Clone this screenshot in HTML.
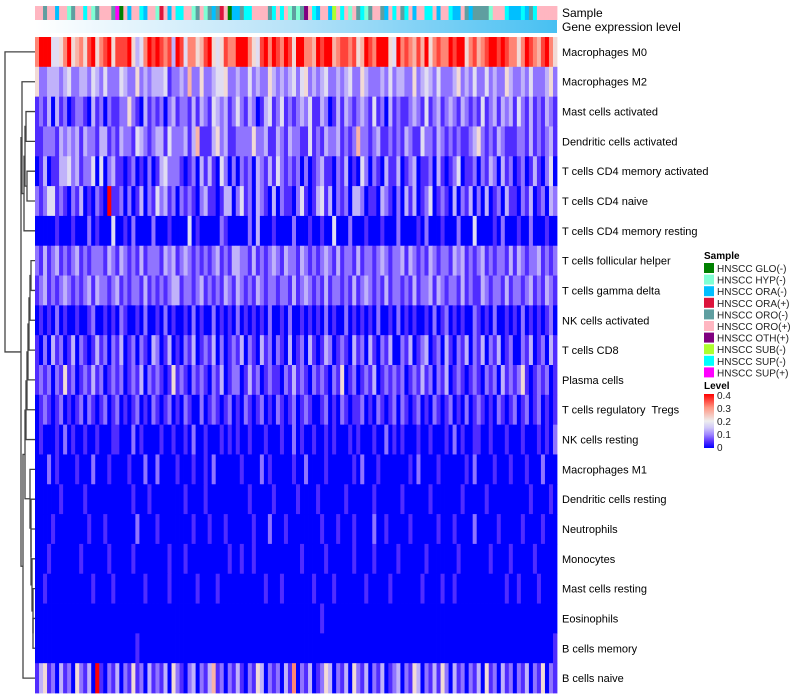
<!DOCTYPE html>
<html><head><meta charset="utf-8"><style>
body{margin:0;background:#fff;font-family:"Liberation Sans",sans-serif}
svg{display:block}
text{white-space:pre}
</style></head><body>
<svg id="c" width="800" height="700"></svg>
<script>
const rowLabels=["Macrophages M0","Macrophages M2","Mast cells activated","Dendritic cells activated","T cells CD4 memory activated","T cells CD4 naive","T cells CD4 memory resting","T cells follicular helper","T cells gamma delta","NK cells activated","T cells CD8","Plasma cells","T cells regulatory  Tregs","NK cells resting","Macrophages M1","Dendritic cells resting","Neutrophils","Monocytes","Mast cells resting","Eosinophils","B cells memory","B cells naive"];
const rowData=[
"7999445795 6758957895 8889534798 9878398477 5689545877 9997548979 8798599776 9899678878 5698799954 9787686957 8779899578 6789989877 5798768975",
"5223332342 2332432422 2432252323 3341223262 2522344522 3224232253 2323424523 2342232342 2532223242 3322523432 4222352324 2242322532 2324222352",
"1213031201 2210312021 1225210312 1202312213 1321432312 4213201341 2412123241 1320131321 2321412031 2112321412 3123213212 1412313231 4213121321",
"1122213232 3132213312 1322143212 3314222313 6111352311 2222522311 3213221141 2132231212 6221231121 2132114221 3212121123 5212132111 2213121231",
"0130113342 3122404023 1101201020 1342221012 0313104202 0212032131 4212120201 2311021301 0420210311 3012301120 3101240112 0213203120 1201310240",
"2124412102 1301021091 1202013021 4231202121 0231101330 2412032103 0211024101 3413021203 3201103210 2031301240 1210302130 2030120311 0213012032",
"0000010001 0002010004 0010200002 0001000040 1000002100 0002030001 0000200010 0100400020 0010001000 2000010200 0100020004 0000102000 1002000100",
"2131231212 3121222132 1321213122 2132312321 2121231213 3221312123 2132213212 1232131221 3122123212 2313212132 1221323121 2312122131 3212231212",
"1231212321 2123132212 3121221312 1212331221 2312121321 3212132122 1221312321 2131221213 1232121312 2121312231 3212213121 1321221312 2123121321",
"0101020100 1001200101 0210010200 1020100102 0100201010 2010101020 0102001010 1020100201 0101020010 2010100102 0120101002 1010200101 0201010120",
"1020312013 0210131202 1301202103 2013010213 0121302012 1302103120 2103012031 0132012103 1203102130 0213012301 2031021302 1302130120 0213012031",
"1212021512 0121312012 1201213021 2101512102 1210213012 2013120121 1021312102 1210215012 0121301212 1201213120 2130121012 1021203121 2510121201",
"0121012010 1202101201 2010120102 1012010210 0201210120 1021012010 2101201210 0120102101 1201021012 0210120102 1012010201 2101021012 0120120101",
"0100010201 0010010001 1000201000 0100100102 0010001010 1001000100 0100201001 0010100010 1000100201 0100010010 0010201001 1001000100 0100010102",
"0002010000 1000200010 0001000200 2000010001 0010200000 0100002010 0000100200 0010000001 0200010000 0001020000 1000000102 0000100010 0010002000",
"0000001000 0010000000 0000100010 0000000100 0010000000 0001000001 0000010000 1000000100 0000100000 0100000010 0000001000 0010000000 0001000010",
"0000100000 0001000100 0000020000 1000000001 0001000100 0000100020 0010000000 0100010001 0000200100 0001000000 1000100002 0000010000 0100001000",
"0001000000 0100000010 0000100000 0001000100 0000000010 0100100000 0000001000 0010000001 0000100000 1000000100 0000010000 0001000010 0000100000",
"0010000000 0000100001 0000000100 0001000000 1000010000 0000000100 0100000001 0000100000 0010000010 0000001000 0100100000 0000000100 1000010000",
"0000000000 0000000000 0000000000 0000000000 0000000000 0000000000 0000000000 0100000000 0000000000 0000000000 0000000000 0000000000 0000000000",
"0000000000 0000000000 0000010000 0000000000 0000000000 0000000000 0000000000 0000000000 0000000000 0000000000 0000000000 0000000000 0000000001",
"1351203120 5213091021 3021512031 2130521023 0213612021 3102153021 2031702130 1253021305 2130213012 3021530213 1520312021 3051203120 2130215021"
];
const sampleCodes="pptppdppat ppcpatpppt mgpdppcdpp arpdpccppa tpatdtrpgd dtccpppptc pcpatatupc dppdypcpap tcatpptdpc ptcpdppccp dppcddptdt tttapppcdd dcdtcppppp";
const legendNames=["HNSCC GLO(-)","HNSCC HYP(-)","HNSCC ORA(-)","HNSCC ORA(+)","HNSCC ORO(-)","HNSCC ORO(+)","HNSCC OTH(+)","HNSCC SUB(-)","HNSCC SUP(-)","HNSCC SUP(+)"];
const legendCodes=["g","a","d","r","t","p","u","y","c","m"];
const levelTicks=[0,0.1,0.2,0.3,0.4];
const palette={g:"#008000",a:"#7FFFD4",d:"#00BFFF",r:"#DC143C",t:"#5F9EA0",p:"#FFB6C1",u:"#800080",y:"#ADFF2F",c:"#00FFFF",m:"#FF00FF"};
const merges=[[2,3,26],[4,5,27],[22,23,25],[24,6,24],[7,8,31],[26,9,30],[27,10,29],[28,11,28],[29,12,27],[30,13,26],[19,20,33],[32,18,33],[33,17,32],[34,16,31],[35,15,31],[36,14,30],[31,37,25],[38,21,23],[1,25,22],[40,39,21],[0,41,5]];

const svg=document.getElementById('c');const NS="http://www.w3.org/2000/svg";
function mk(t,a,p){const e=document.createElementNS(NS,t);for(const k in a)e.setAttribute(k,a[k]);(p||svg).appendChild(e);return e;}
const X0=35,X1=557,Y0=37,Y1=693;
const rows=rowData.map(s=>s.replace(/ /g,'').split('').map(d=>(+d)/9*0.4));
const nCol=rows[0].length;const cw=(X1-X0)/nCol;const rh=(Y1-Y0)/rows.length;
const xS=i=>X0+i*cw, yS=i=>Y0+i*rh;
const ramp=[[0,[0,0,255]],[0.05,[90,50,255]],[0.1,[160,135,255]],[0.15,[208,200,248]],[0.2,[238,238,238]],[0.3,[255,150,130]],[0.4,[255,0,0]]];
function col(v){v=Math.max(0,Math.min(0.4,v));
 for(let k=1;k<ramp.length;k++){if(v<=ramp[k][0]){const a=ramp[k-1],b=ramp[k];const u=(v-a[0])/(b[0]-a[0]);
  const c=a[1].map((x,i)=>Math.round(x+(b[1][i]-x)*u));return `rgb(${c})`;}}
 return 'rgb(255,0,0)';}
const hm=mk('g',{});
rows.forEach((r,i)=>r.forEach((v,j)=>{const e=mk('rect',{x:xS(j),y:yS(i),width:cw+0.4,height:rh+0.4,fill:col(v)},hm);
 
 }));
const sc=sampleCodes.replace(/ /g,'').split('');
const sb=mk('g',{});
sc.forEach((c,j)=>{const e=mk('rect',{x:xS(j*nCol/sc.length),y:6,width:cw*nCol/sc.length+0.4,height:14,fill:palette[c]},sb);
 
 });
const defs=mk('defs',{});
const lg=mk('linearGradient',{id:'ge',x1:0,x2:1,y1:0,y2:0},defs);
mk('stop',{offset:0,'stop-color':'#ffffff'},lg);mk('stop',{offset:0.5,'stop-color':'#b6e2f8'},lg);mk('stop',{offset:1,'stop-color':'#47c0f2'},lg);
const lv=mk('linearGradient',{id:'lv',x1:0,x2:0,y1:1,y2:0},defs);
ramp.forEach(r=>mk('stop',{offset:r[0]/0.4,'stop-color':`rgb(${r[1]})`},lv));
const ge=mk('rect',{x:X0,y:20,width:X1-X0,height:13,fill:'url(#ge)'});

function txt(x,y,s,name,extra){const e=mk('text',Object.assign({x:x,y:y,'font-size':11,fill:'#000'},extra||{}));e.textContent=s;
 return e;}
txt(562,17,"Sample","sample-annotation-label",{'font-size':12});
txt(562,31,"Gene expression level","gene-expression-label",{'font-size':12});
rowLabels.forEach((s,i)=>txt(562,yS(i)+rh/2+4,s,'row-label'));
const nodes=rowLabels.map((_,i)=>({x:X0,y:yS(i)+rh/2}));
const dg=mk('g',{stroke:'#444','stroke-width':1.3,fill:'none'});
merges.forEach(m=>{const a=nodes[m[0]],b=nodes[m[1]],x=m[2];
 const p=mk('path',{d:`M${a.x},${a.y}H${x}V${b.y}H${b.x}`},dg);
 
 
 nodes.push({x:x,y:(a.y+b.y)/2});});
txt(704,259,"Sample","sample-legend-title",{'font-size':10,'font-weight':'bold'});
legendNames.forEach((n,i)=>{const y=263+i*11.6;
 const r=mk('rect',{x:704,y:y,width:10,height:10,fill:palette[legendCodes[i]]});
 
 txt(717,y+9,n,'legend-entry',{'font-size':10,fill:'#222'});});
txt(704,389,"Level","level-legend-title",{'font-size':10,'font-weight':'bold'});
const lb=mk('rect',{x:704,y:394,width:10,height:54,fill:'url(#lv)'});

levelTicks.forEach(t=>{const y=448-t/0.4*52;txt(717,y+3,String(t),'level-tick',{'font-size':10,fill:'#222'});});
</script>
</body></html>
